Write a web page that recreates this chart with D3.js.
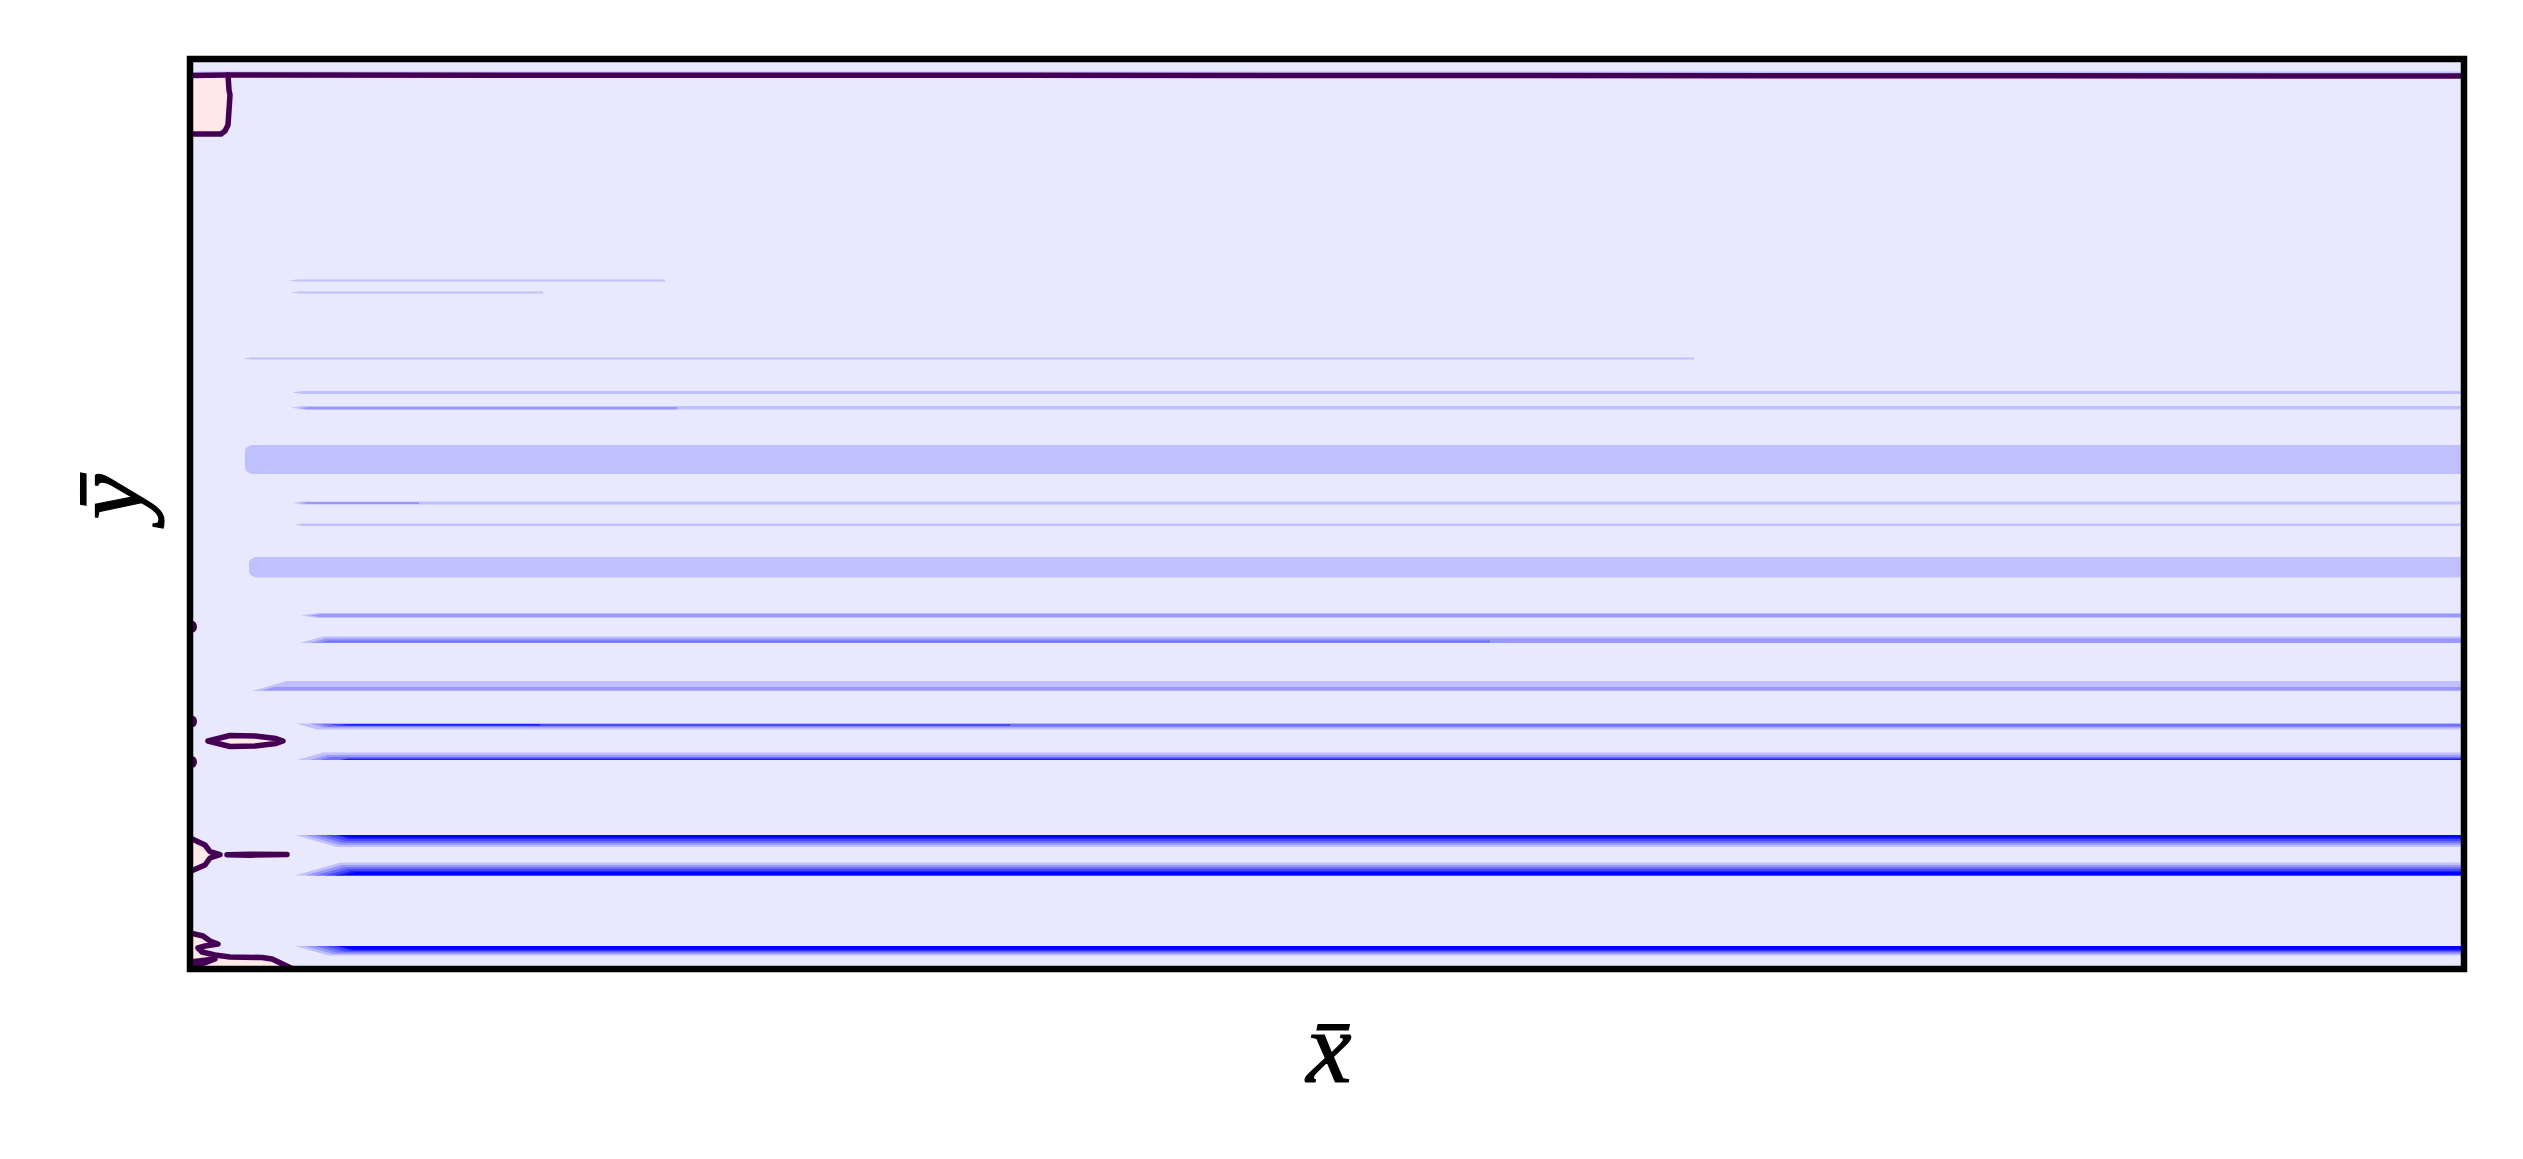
<!DOCTYPE html>
<html>
<head>
<meta charset="utf-8">
<script src="https://cdn.jsdelivr.net/npm/d3@7"></script>
<style>
  html, body { margin: 0; padding: 0; background: #ffffff; }
  svg { display: block; }
</style>
</head>
<body>
<svg id="chart" width="2523" height="1159"></svg>
<script>
// ---------------- data (x̄, ȳ in axis units) ----------------
const xDomain = [0, 22.74];
const yDomain = [0, 9.10];

// contour fill levels (negative side of a diverging map) and positive level
const levelColors = ["#e8e8ff", "#c0c0ff", "#9898ff", "#7070ff", "#4848ff", "#2020ff", "#0000ff"];
const positiveColor = "#ffe8e8";
const contourColor = "#440154";

// filled contour layers: [ȳ top, ȳ bottom, level, x̄ start, x̄ end, tip side]
const layers = [
  [8.975, 8.950, 1, 0.00, 22.74, "m"],
  [6.895, 6.875, 1, 0.99, 4.75, "m"],
  [6.775, 6.755, 1, 1.01, 3.53, "m"],
  [6.115, 6.095, 1, 0.53, 15.04, "m"],
  [5.780, 5.750, 1, 1.02, 22.74, "m"],
  [5.630, 5.595, 1, 1.01, 22.74, "m"],
  [5.620, 5.595, 2, 1.10, 4.87, "m"],
  [5.240, 4.950, 1, 0.55, 22.74, "r"],
  [4.675, 4.645, 1, 1.02, 22.74, "m"],
  [4.670, 4.650, 2, 1.10, 2.29, "m"],
  [4.455, 4.430, 1, 1.04, 22.74, "m"],
  [4.120, 3.915, 1, 0.59, 22.74, "r"],
  [3.560, 3.510, 1, 1.11, 22.74, "m"],
  [3.550, 3.520, 2, 1.20, 22.74, "m"],
  [3.325, 3.260, 1, 1.10, 22.74, "b"],
  [3.305, 3.260, 2, 1.20, 22.74, "b"],
  [3.285, 3.265, 3, 1.30, 13.00, "b"],
  [2.880, 2.780, 1, 0.62, 22.74, "b"],
  [2.820, 2.785, 2, 0.72, 22.74, "b"],
  [2.455, 2.395, 1, 1.06, 22.74, "t"],
  [2.455, 2.415, 2, 1.20, 22.74, "t"],
  [2.450, 2.425, 3, 1.30, 22.74, "t"],
  [2.450, 2.430, 4, 1.40, 8.20, "t"],
  [2.450, 2.435, 5, 1.50, 3.50, "t"],
  [2.165, 2.090, 1, 1.07, 22.74, "b"],
  [2.140, 2.090, 2, 1.20, 22.74, "b"],
  [2.120, 2.090, 3, 1.30, 22.74, "b"],
  [2.105, 2.090, 5, 1.50, 22.74, "b"],
  [1.340, 1.220, 1, 1.05, 22.74, "t"],
  [1.340, 1.240, 2, 1.15, 22.74, "t"],
  [1.340, 1.260, 3, 1.25, 22.74, "t"],
  [1.340, 1.280, 4, 1.35, 22.74, "t"],
  [1.340, 1.300, 5, 1.45, 22.74, "t"],
  [1.340, 1.315, 6, 1.50, 22.74, "t"],
  [1.065, 0.935, 1, 1.05, 22.74, "b"],
  [1.040, 0.935, 2, 1.15, 22.74, "b"],
  [1.020, 0.935, 3, 1.25, 22.74, "b"],
  [1.000, 0.935, 4, 1.35, 22.74, "b"],
  [0.980, 0.935, 5, 1.45, 22.74, "b"],
  [0.970, 0.940, 6, 1.55, 22.74, "b"],
  [0.230, 0.135, 1, 1.05, 22.74, "t"],
  [0.230, 0.150, 2, 1.15, 22.74, "t"],
  [0.230, 0.165, 3, 1.25, 22.74, "t"],
  [0.230, 0.175, 4, 1.35, 22.74, "t"],
  [0.230, 0.185, 5, 1.45, 22.74, "t"],
  [0.230, 0.195, 6, 1.50, 22.74, "t"]
];

// positive regions (closed, filled) — [x̄, ȳ] points
const positiveRegions = [
  [[0, 8.935], [0.38, 8.94], [0.39, 8.79], [0.40, 8.74], [0.38, 8.44], [0.35, 8.38], [0.31, 8.35], [0, 8.35]],
  [[0.18, 2.28], [0.40, 2.335], [0.65, 2.33], [0.86, 2.305], [0.93, 2.28], [0.86, 2.255], [0.65, 2.23], [0.40, 2.225]],
  [[0, 1.31], [0.15, 1.24], [0.20, 1.173], [0.30, 1.143], [0.20, 1.11], [0.15, 1.04], [0, 0.975]],
  [[0, 0.36], [0.13, 0.33], [0.20, 0.28], [0.28, 0.25], [0.15, 0.23], [0.08, 0.21], [0.12, 0.17], [0.25, 0.14],
   [0.40, 0.12], [0.72, 0.115], [0.82, 0.10], [1.03, 0.00], [0, 0.00]]
];

// zero-level contour lines (open paths) — [x̄, ȳ] points
const contourLines = [
  [[0, 8.935], [0.38, 8.94], [22.74, 8.93]],
  [[0.38, 8.94], [0.39, 8.79], [0.40, 8.74], [0.38, 8.44], [0.35, 8.38], [0.31, 8.35], [0, 8.35]],
  [[0.18, 2.28], [0.40, 2.335], [0.65, 2.33], [0.86, 2.305], [0.93, 2.28], [0.86, 2.255], [0.65, 2.23], [0.40, 2.225], [0.18, 2.28]],
  [[0, 1.31], [0.15, 1.24], [0.20, 1.173], [0.30, 1.143], [0.20, 1.11], [0.15, 1.04], [0, 0.975]],
  [[0.37, 1.143], [0.60, 1.148], [0.97, 1.145], [0.60, 1.138], [0.37, 1.143]],
  [[0, 0.36], [0.13, 0.33], [0.20, 0.28], [0.28, 0.25], [0.15, 0.23], [0.08, 0.21], [0.12, 0.17], [0.25, 0.14],
   [0.40, 0.12], [0.72, 0.115], [0.82, 0.10], [1.03, 0.00]],
  [[0, 0.07], [0.25, 0.10], [0.05, 0.025]]
];

// tiny contour loops touching the left edge: [x̄, ȳ]
const edgeLoops = [[0.02, 3.423], [0.02, 2.475], [0.02, 2.07]];

const xLabel = "x\u0304";
const yLabel = "y\u0304";

// ---------------- drawing ----------------
const svg = d3.select("#chart");
const x = d3.scaleLinear().domain(xDomain).range([190, 2464]);
const y = d3.scaleLinear().domain(yDomain).range([969, 59]);

const clipId = "plotclip";
svg.append("defs").append("clipPath").attr("id", clipId)
  .append("rect")
  .attr("x", x(xDomain[0])).attr("y", y(yDomain[1]))
  .attr("width", x(xDomain[1]) - x(xDomain[0]))
  .attr("height", y(yDomain[0]) - y(yDomain[1]));

const plot = svg.append("g").attr("clip-path", `url(#${clipId})`);

plot.append("rect")
  .attr("x", x(xDomain[0])).attr("y", y(yDomain[1]))
  .attr("width", x(xDomain[1]) - x(xDomain[0]))
  .attr("height", y(yDomain[0]) - y(yDomain[1]))
  .attr("fill", levelColors[0]);

function layerPath(d) {
  const [yt, yb, lev, xs, xe, tip] = d;
  const Y0 = y(yt), Y1 = y(yb), X0 = x(xs), X1 = x(xe);
  const th = Math.max(1, Y1 - Y0);
  const tap = Math.max(8, th * 3.5);
  let pts;
  if (tip === "t") {
    pts = [[X0, Y0], [X1, Y0], [X1, Y1], [X0 + tap, Y1]];
  } else if (tip === "b") {
    pts = [[X0, Y1], [X1, Y1], [X1, Y0], [X0 + tap, Y0]];
  } else if (tip === "r") {
    const r = 6;
    pts = [[X0 + r, Y0], [X1, Y0], [X1, Y1], [X0 + r, Y1], [X0 + 1, Y1 - 3], [X0, Y1 - r], [X0, Y0 + r], [X0 + 1, Y0 + 3]];
  } else {
    const m = (Y0 + Y1) / 2;
    pts = [[X0, m], [X0 + tap, Y0], [X1, Y0], [X1, Y1], [X0 + tap, Y1]];
  }
  return "M" + pts.map(p => p.join(",")).join("L") + "Z";
}

// draw lower levels first so deeper levels sit on top
const sorted = layers.slice().sort((a, b) => a[2] - b[2]);
plot.selectAll("path.layer").data(sorted).enter().append("path")
  .attr("class", "layer")
  .attr("d", layerPath)
  .attr("fill", d => levelColors[d[2]]);

const line = d3.line().x(d => x(d[0])).y(d => y(d[1]));

plot.selectAll("path.pos").data(positiveRegions).enter().append("path")
  .attr("class", "pos")
  .attr("d", d => line(d) + "Z")
  .attr("fill", positiveColor);

plot.selectAll("path.cline").data(contourLines).enter().append("path")
  .attr("class", "cline")
  .attr("d", line)
  .attr("fill", "none")
  .attr("stroke", contourColor)
  .attr("stroke-width", 5.5)
  .attr("stroke-linejoin", "round")
  .attr("stroke-linecap", "round");

plot.selectAll("ellipse.loop").data(edgeLoops).enter().append("ellipse")
  .attr("class", "loop")
  .attr("cx", d => x(d[0]))
  .attr("cy", d => y(d[1]))
  .attr("rx", 5).attr("ry", 6)
  .attr("fill", contourColor);

// frame
svg.append("rect")
  .attr("x", x(xDomain[0])).attr("y", y(yDomain[1]))
  .attr("width", x(xDomain[1]) - x(xDomain[0]))
  .attr("height", y(yDomain[0]) - y(yDomain[1]))
  .attr("fill", "none")
  .attr("stroke", "#000000")
  .attr("stroke-width", 6.5);

// labels
svg.append("text")
  .attr("x", (x(xDomain[0]) + x(xDomain[1])) / 2 + 2)
  .attr("y", 1082)
  .attr("text-anchor", "middle")
  .attr("font-family", "'Liberation Serif', 'DejaVu Serif', serif")
  .attr("font-style", "italic")
  .attr("font-size", 102)
  .attr("stroke", "#000")
  .attr("stroke-width", 1.2)
  .attr("fill", "#000")
  .text(xLabel);

svg.append("text")
  .attr("transform", `translate(142, ${(y(yDomain[0]) + y(yDomain[1])) / 2 - 17}) rotate(-90)`)
  .attr("text-anchor", "middle")
  .attr("font-family", "'Liberation Serif', 'DejaVu Serif', serif")
  .attr("font-style", "italic")
  .attr("font-size", 102)
  .attr("stroke", "#000")
  .attr("stroke-width", 1.2)
  .attr("fill", "#000")
  .text(yLabel);
</script>
</body>
</html>
